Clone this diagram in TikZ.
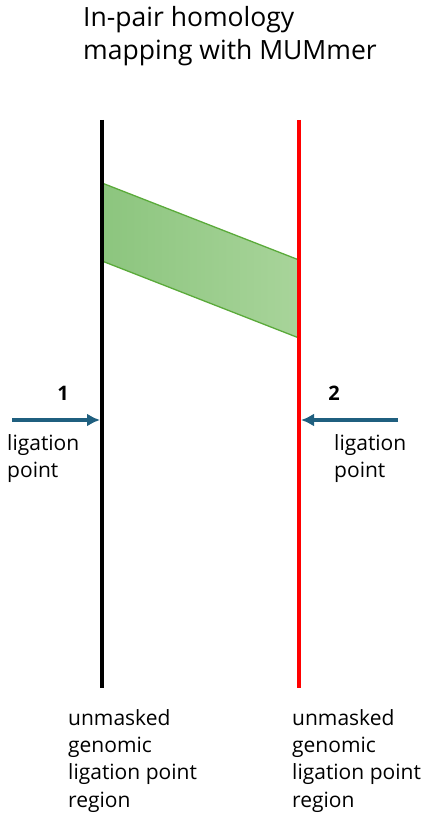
\documentclass[tikz,border=0pt]{standalone}
\usepackage{fontspec}
\setmainfont{Open Sans}
\usetikzlibrary{arrows.meta}
\begin{document}
\begin{tikzpicture}[x=1pt,y=-1pt,
  lbl/.style={anchor=north west,inner sep=0pt,font=\fontsize{21}{27.4}\selectfont,align=left},
  ttl/.style={anchor=north west,inner sep=0pt,font=\fontsize{26.5}{33}\selectfont,align=left},
  num/.style={inner sep=0pt,font=\fontsize{20}{23}\selectfont\bfseries},
  ligarrow/.style={draw=arrowc,line width=3.2pt,-{Latex[length=13pt,width=13pt]}}]
\definecolor{arrowc}{HTML}{1F5F7F}
\definecolor{gdark}{HTML}{8CC57E}
\definecolor{glight}{HTML}{A8D49A}
\definecolor{gline}{HTML}{5AAA3A}
\useasboundingbox (0,0) rectangle (426,813);
% title
\node[ttl] (title) at (83,6) {In-pair homology\\mapping with MUMmer};
% green band
\shade[left color=gdark,right color=glight] (102,183) -- (299,260) -- (299,338) -- (102,261) -- cycle;
\coordinate (b1) at (102,183);
\coordinate (b2) at (299,260);
\coordinate (b3) at (299,338);
\coordinate (b4) at (102,261);
\draw[gline,line width=1.3pt] (b1) -- (b2);
\draw[gline,line width=1.3pt] (b4) -- (b3);
% lines
\coordinate (lt) at (102,120);
\coordinate (lb) at (102,688);
\coordinate (rt) at (299,120);
\coordinate (rb) at (299,688);
\draw[black,line width=4.5pt] (lt) -- (lb);
\draw[red,line width=4pt] (rt) -- (rb);
% arrows
\coordinate (a1s) at (12,420);
\coordinate (a1e) at (100,420);
\coordinate (a2s) at (398,420);
\coordinate (a2e) at (301,420);
\draw[ligarrow] (a1s) -- (a1e);
\draw[ligarrow] (a2s) -- (a2e);
\node[num] (n1) at (63,393) {1};
\node[num] (n2) at (334,393) {2};
\node[lbl] (l1) at (7,434) {ligation\\point};
\node[lbl] (l2) at (334,434) {ligation\\point};
% bottom labels
\node[lbl] (u1) at (68,709) {unmasked\\genomic\\ligation point\\region};
\node[lbl] (u2) at (292,709) {unmasked\\genomic\\ligation point\\region};
\end{tikzpicture}
\end{document}
